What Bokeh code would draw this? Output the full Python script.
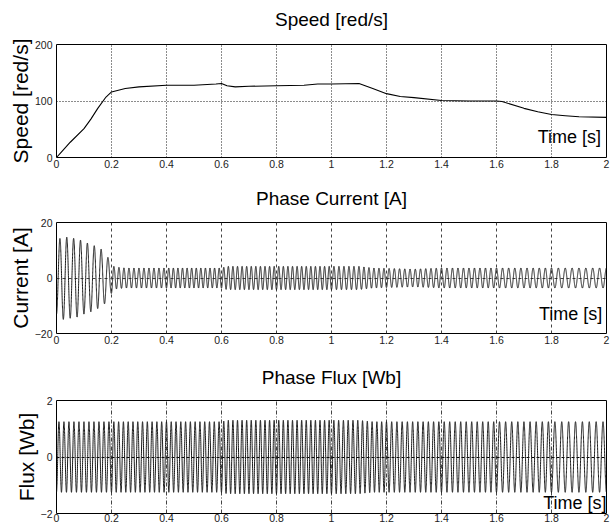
import numpy as np
from bokeh.plotting import figure
from bokeh.models import Range1d, FixedTicker, Label, LinearAxis
from bokeh.layouts import column
from bokeh.embed import file_html
from bokeh.resources import INLINE

# ---------------- data ----------------
x_ticks = [0, 0.2, 0.4, 0.6, 0.8, 1.0, 1.2, 1.4, 1.6, 1.8, 2.0]
x_tick_labels = ["0", "0.2", "0.4", "0.6", "0.8", "1", "1.2", "1.4", "1.6", "1.8", "2"]

# Speed [rad/s] trace
speed_t = [0, 0.02, 0.05, 0.1, 0.125, 0.15, 0.18, 0.2, 0.25, 0.3, 0.4, 0.5, 0.58, 0.6, 0.62,
           0.65, 0.7, 0.8, 0.9, 0.95, 1.0, 1.1, 1.15, 1.2, 1.25, 1.3, 1.4, 1.5, 1.6,
           1.62, 1.7, 1.75, 1.8, 1.85, 1.9, 2.0]
speed_v = [0, 11, 27, 51, 68, 87, 107, 116, 122, 125, 128, 128, 130, 131, 127,
           125, 126, 127, 128, 130, 130, 131, 122, 113, 108, 106, 101, 100, 100,
           99, 87, 81, 76, 74, 72, 71]

# Oscillating traces: cycles counted per 0.2 s interval, envelope read at knots
interval_edges = [0, 0.2, 0.4, 0.6, 0.8, 1.0, 1.2, 1.4, 1.6, 1.8, 2.0]
current_cycles = [8, 11, 12, 12, 12, 11, 10.5, 10, 9, 8]
current_env_t = [0, 0.02, 0.05, 0.08, 0.1, 0.13, 0.15, 0.17, 0.19, 0.21, 0.25,
                 0.6, 0.62, 1.1, 1.15, 1.3, 1.4, 2.0]
current_env_v = [13, 15, 14.5, 14, 13, 12, 11, 10, 7, 4, 3.6,
                 3.6, 4.2, 4.2, 3.6, 3.2, 3.6, 3.6]

flux_cycles = [11, 11.5, 11.5, 12, 12, 11.5, 10.5, 10, 9, 8]
flux_env_t = [0, 0.6, 0.62, 1.1, 1.15, 2.0]
flux_env_v = [1.25, 1.25, 1.3, 1.3, 1.25, 1.25]

# ---------------- build the traces ----------------
t = np.linspace(0, 2, 12001)
dt = t[1] - t[0]


def waveform(cycles, env_t, env_v):
    idx = np.clip(np.searchsorted(interval_edges, t, side="right") - 1, 0, len(cycles) - 1)
    freq = np.array(cycles)[idx] / 0.2
    phase = 2 * np.pi * np.cumsum(freq) * dt
    env = np.interp(t, env_t, env_v)
    return -env * np.cos(phase)


current = waveform(current_cycles, current_env_t, current_env_v)
flux = waveform(flux_cycles, flux_env_t, flux_env_v)

FONT = "Liberation Sans"


def make_fig(height, top, bottom, yr, yticks, title, ylabel, title_standoff, x_standoff):
    p = figure(width=616, height=height, x_range=Range1d(0, 2), y_range=Range1d(*yr),
               min_border_left=56, min_border_right=10, min_border_top=top,
               min_border_bottom=bottom, output_backend="svg", toolbar_location=None)
    p.xaxis.ticker = FixedTicker(ticks=x_ticks)
    p.xaxis.major_label_overrides = {tk: lb for tk, lb in zip(x_ticks, x_tick_labels)}
    p.yaxis.ticker = FixedTicker(ticks=yticks)
    p.yaxis.axis_label = ylabel
    p.yaxis.axis_label_text_font = FONT
    p.yaxis.axis_label_text_font_size = "21px"
    p.yaxis.axis_label_text_font_style = "normal"
    p.yaxis.axis_label_text_color = "black"
    p.yaxis.axis_label_standoff = 0
    for ax in (p.xaxis, p.yaxis):
        ax.major_label_text_font = FONT
        ax.major_label_text_font_size = "10.5px"
        ax.major_label_text_color = "#222222"
        ax.major_tick_line_color = None
        ax.minor_tick_line_color = None
        ax.major_tick_out = 0
        ax.major_tick_in = 0
        ax.axis_line_color = None
    p.xaxis.major_label_standoff = x_standoff
    p.yaxis.major_label_standoff = 4
    # title drawn as the label of a tick-less axis above the frame
    tax = LinearAxis(ticker=FixedTicker(ticks=[]), axis_label=title,
                     axis_label_text_font=FONT, axis_label_text_font_size="19px",
                     axis_label_text_font_style="normal", axis_label_text_color="black",
                     axis_label_standoff=title_standoff, axis_line_color=None,
                     major_tick_line_color=None, minor_tick_line_color=None,
                     major_tick_out=0, major_tick_in=0, minor_tick_out=0,
                     major_label_standoff=0)
    p.add_layout(tax, "above")
    p.outline_line_color = "black"
    p.outline_line_width = 1
    p.outline_line_alpha = 1
    p.background_fill_color = "white"
    p.border_fill_color = "white"
    return p


# Speed
p1 = make_fig(180, 44, 23, (0, 200), [0, 100, 200], "Speed [red/s]", "Speed [red/s]", 15, 2)
p1.grid.grid_line_color = "black"
p1.grid.grid_line_dash = "1 2"
p1.grid.grid_line_alpha = 0.9
p1.line(speed_t, speed_v, line_color="black", line_width=1.1)
p1.add_layout(Label(x=1.98, y=19, text="Time [s]", text_align="right", text_baseline="bottom",
                    text_font=FONT, text_font_size="18px", text_color="black"))

# Current
p2 = make_fig(178, 42, 25, (-20, 20), [-20, 0, 20], "Phase Current [A]", "Current [A]", 14, 2)
p2.grid.grid_line_color = "#444444"
p2.grid.grid_line_dash = "3 3"
p2.line(t, current, line_color="#1a1a1a", line_width=1)
p2.add_layout(Label(x=1.985, y=-16.4, text="Time [s]", text_align="right", text_baseline="bottom",
                    text_font=FONT, text_font_size="18px", text_color="black"))

# Flux
p3 = make_fig(169, 42, 14, (-2, 2), [-2, 0, 2], "Phase Flux [Wb]", "Flux [Wb]", 13, 0)
p3.xgrid.grid_line_color = "#444444"
p3.xgrid.grid_line_dash = "4 2 1 2"
p3.ygrid.grid_line_color = "black"
p3.ygrid.grid_line_dash = "3 2"
p3.line(t, flux, line_color="#1a1a1a", line_width=1)
p3.add_layout(Label(x=2.0, y=-1.97, text="Time [s]", text_align="right", text_baseline="bottom",
                    text_font=FONT, text_font_size="18px", text_color="black"))

layout = column(p1, p2, p3)
open("out.html", "w").write(file_html(layout, INLINE))
